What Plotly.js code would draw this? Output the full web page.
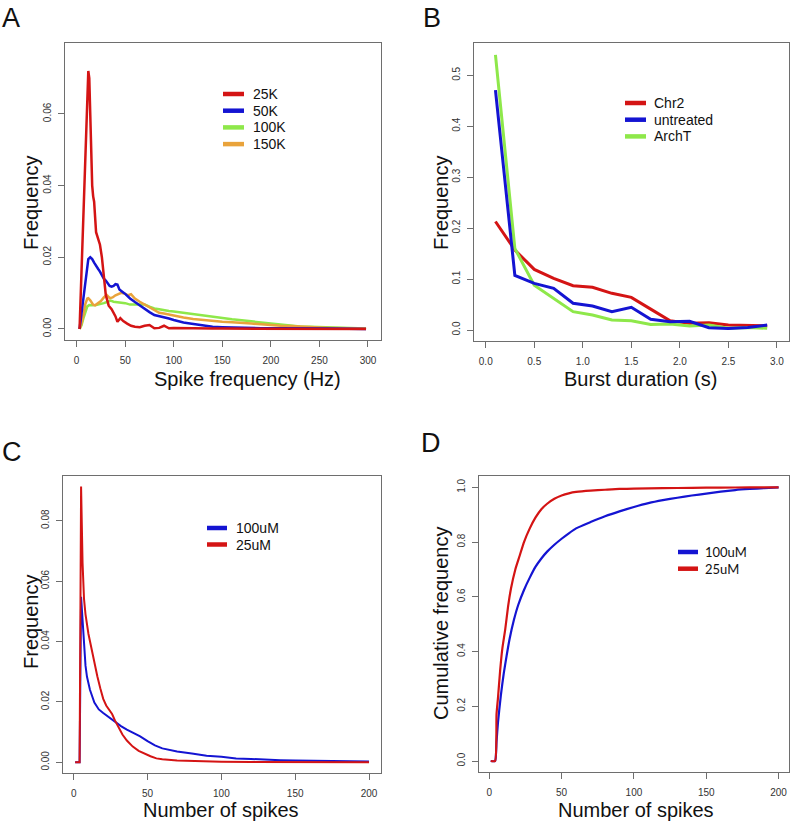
<!DOCTYPE html>
<html><head><meta charset="utf-8">
<script src="https://cdn.plot.ly/plotly-3.0.1.min.js"></script>
<style>html,body{margin:0;padding:0;background:#fff}#chart{width:791px;height:822px}</style>
</head><body><div id="chart"></div>
<script>
// ---------- Panel A: spike frequency distributions ----------
const a25kX = [3,5,7,9,11,12,13,14,15,16,17,18,20,22,24,26,28,30,33,36,40,42,45,48,52,56,60,65,70,75,80,85,90,95,100,110,120,130,140,150,170,200,230,260,298];
const a25kY = [0,0.018,0.033,0.048,0.064,0.072,0.070,0.057,0.047,0.040,0.037,0.0355,0.027,0.025,0.0235,0.020,0.014,0.0095,0.0065,0.0055,0.0035,0.002,0.003,0.0022,0.0015,0.0009,0.0006,0.0005,0.0009,0.0011,0.0002,0.0003,0.0009,0.0002,0.0003,0.0002,0.0002,0.0001,0.0001,0.0001,0.0001,0.0001,0.0001,0.0001,0];
const a50kX = [3,5,7,9,11,12,14,16,18,20,22,24,26,28,30,32,34,36,38,40,42,44,46,48,50,55,60,65,70,75,80,85,90,95,100,105,110,115,120,125,130,140,150,160,175,190,210,230,260,298];
const a50kY = [0,0.004,0.0085,0.013,0.0175,0.0195,0.020,0.0195,0.0185,0.0175,0.0168,0.016,0.015,0.014,0.0135,0.0128,0.012,0.0118,0.012,0.0125,0.0124,0.011,0.0105,0.0102,0.0098,0.0085,0.0075,0.0065,0.0056,0.0047,0.0039,0.0036,0.0034,0.0029,0.0025,0.0021,0.0018,0.0016,0.0014,0.0011,0.0008,0.0006,0.0005,0.0004,0.0003,0.0002,0.0002,0.0001,0.0001,0];
const a100kX = [3,5,7,9,11,13,16,20,24,28,32,35,38,42,46,50,55,60,65,70,75,80,85,90,95,100,110,120,130,140,150,160,170,180,190,200,210,220,230,240,250,260,270,280,298];
const a100kY = [0,0.001,0.003,0.005,0.0063,0.0067,0.0066,0.0067,0.0069,0.0072,0.0076,0.0079,0.0076,0.0075,0.0073,0.0072,0.0068,0.0068,0.0070,0.0068,0.0062,0.0057,0.0055,0.0052,0.0050,0.0049,0.0045,0.0042,0.0039,0.0034,0.0030,0.0027,0.0024,0.0021,0.0018,0.0015,0.0012,0.0009,0.0007,0.0006,0.0005,0.0004,0.0003,0.0002,0.0001];
const a150kX = [3,5,7,9,11,12,14,17,19,22,25,28,31,34,37,40,43,46,50,53,56,60,65,70,75,80,85,90,95,100,110,120,130,140,150,160,170,180,190,200,210,220,230,240,250,260,270,280,298];
const a150kY = [0,0.0015,0.004,0.007,0.0085,0.0086,0.008,0.0068,0.0066,0.0072,0.0078,0.0088,0.0095,0.0086,0.0088,0.0094,0.0098,0.0101,0.0098,0.0094,0.0097,0.0085,0.0076,0.0068,0.0059,0.0051,0.0045,0.0043,0.0040,0.0038,0.0032,0.0028,0.0025,0.0022,0.0020,0.0019,0.0018,0.0015,0.0013,0.0010,0.0009,0.0008,0.0006,0.0005,0.0004,0.0003,0.0003,0.0002,0.0001];
const aNames = ["25K","50K","100K","150K"];

// ---------- Panel B: burst duration ----------
const bX = [0.1,0.3,0.5,0.7,0.9,1.1,1.3,1.5,1.7,1.9,2.1,2.3,2.5,2.7,2.9];
const bChr2 = [0.213,0.157,0.119,0.1015,0.087,0.084,0.072,0.064,0.041,0.018,0.013,0.0144,0.0098,0.0085,0.008];
const bUntreated = [0.471,0.107,0.0916,0.0818,0.0524,0.0471,0.036,0.0445,0.021,0.0163,0.017,0.0045,0.003,0.005,0.0098];
const bArchT = [0.54,0.160,0.088,0.062,0.036,0.0294,0.0196,0.018,0.011,0.0118,0.0078,0.0098,0.0033,0.005,0.0033];
const bNames = ["Chr2","untreated","ArchT"];

// ---------- Panel C: number of spikes distribution ----------
const c100X = [1,4,5,6,6.5,8,9,11,14,17,20,24,28,32,36,40,45,50,55,60,65,70,80,90,100,110,120,130,140,150,160,170,180,190,200];
const c100Y = [0,0,0.0548,0.046,0.0427,0.032,0.0283,0.024,0.0198,0.0175,0.0163,0.0148,0.0135,0.012,0.0108,0.0098,0.0086,0.007,0.0056,0.0046,0.004,0.0036,0.0029,0.0022,0.0018,0.0013,0.0011,0.0008,0.0007,0.0006,0.0005,0.0004,0.0004,0.0003,0.0003];
const c25X = [1,4,5,6,7,8,10,12,14,16,18,20,22,24,26,28,30,33,36,40,44,48,52,56,60,70,80,100,120,150,200];
const c25Y = [0,0,0.0913,0.066,0.054,0.049,0.0425,0.0375,0.0325,0.0285,0.0245,0.021,0.0188,0.0175,0.016,0.0138,0.0118,0.0092,0.0072,0.0052,0.0038,0.0028,0.002,0.0013,0.001,0.0006,0.0004,0.0002,0.0001,0.0001,0];
const cNames = ["100uM","25uM"];

// ---------- Panel D: cumulative ----------
const d100X = [1,4,5,6,8,10,12,14,17,20,24,28,32,36,40,45,50,55,60,70,80,90,100,110,120,130,140,150,160,170,180,190,200];
const d100Y = [0,0,0.07,0.14,0.24,0.32,0.385,0.445,0.515,0.57,0.625,0.67,0.71,0.74,0.765,0.79,0.812,0.832,0.85,0.873,0.894,0.912,0.928,0.942,0.953,0.962,0.97,0.977,0.984,0.99,0.994,0.997,1.0];
const d25X = [1,4,5,6,7.5,9,11,13,15,18,21,24,28,32,36,40,45,50,55,60,70,80,90,100,120,140,160,180,200];
const d25Y = [0,0,0.17,0.23,0.33,0.41,0.48,0.565,0.63,0.70,0.75,0.80,0.85,0.89,0.92,0.94,0.958,0.97,0.978,0.983,0.988,0.991,0.994,0.995,0.997,0.998,0.999,0.9995,1.0];
const dNames = ["100uM","25uM"];

// ---------- styling / layout ----------
const W = 791, H = 822;
const FONT = '"Liberation Sans", Arial, Helvetica, sans-serif';
const RED = '#d41414', BLUE = '#1414d2', GREEN = '#8ee84a', ORANGE = '#e9a33b';
const px = x => x / W, py = y => 1 - y / H;

function tr(x, y, color, w, xa, ya, shape) {
  return {x: x, y: y, type: 'scatter', mode: 'lines',
    line: {color: color, width: w, shape: shape || 'linear', smoothing: 0.5},
    xaxis: xa, yaxis: ya, showlegend: false, hoverinfo: 'skip'};
}

const data = [
  tr(a100kX, a100kY, GREEN, 2.5, 'x', 'y'),
  tr(a150kX, a150kY, ORANGE, 2.5, 'x', 'y'),
  tr(a50kX, a50kY, BLUE, 2.5, 'x', 'y'),
  tr(a25kX, a25kY, RED, 2.5, 'x', 'y'),
  tr(bX, bChr2, RED, 3, 'x2', 'y2'),
  tr(bX, bArchT, GREEN, 3, 'x2', 'y2'),
  tr(bX, bUntreated, BLUE, 3, 'x2', 'y2'),
  tr(c100X, c100Y, BLUE, 2, 'x3', 'y3'),
  tr(c25X, c25Y, RED, 2, 'x3', 'y3'),
  tr(d100X, d100Y, BLUE, 2.2, 'x4', 'y4', 'spline'),
  tr(d25X, d25Y, RED, 2.2, 'x4', 'y4', 'spline')
];

const boxes = {A: [65, 43, 381, 340], B: [474, 43, 789, 341], C: [63.3, 476, 381, 773.3], D: [479.3, 476, 789, 771.7]};

function xax(b, range, dtick, fmt, anchor) {
  return {domain: [px(b[0]), px(b[2])], range: range, anchor: anchor, tick0: 0, dtick: dtick, tickformat: fmt,
    showgrid: false, zeroline: false, showline: true, mirror: true, linecolor: '#6e6e6e', linewidth: 1,
    ticks: 'outside', ticklen: 6, tickcolor: '#6e6e6e', tickwidth: 1, ticklabelstandoff: 5,
    tickfont: {family: FONT, size: 10, color: '#333'}, fixedrange: true};
}
function yax(b, range, dtick, fmt, anchor) {
  return {domain: [py(b[3]), py(b[1])], range: range, anchor: anchor, tick0: 0, dtick: dtick, tickformat: fmt,
    showgrid: false, zeroline: false, showline: true, mirror: true, linecolor: '#6e6e6e', linewidth: 1,
    ticks: 'outside', ticklen: 6, tickcolor: '#6e6e6e', tickwidth: 1, tickangle: -90, ticklabelstandoff: 3,
    tickfont: {family: FONT, size: 10, color: '#333'}, fixedrange: true};
}

const shapes = [], annotations = [];
function label(text, x, y, size, angle, family) {
  annotations.push({xref: 'paper', yref: 'paper', x: px(x), y: py(y), xanchor: 'center', yanchor: 'middle',
    text: text, showarrow: false, textangle: angle || 0, font: {family: family || FONT, size: size, color: '#111'}});
}
function legend(names, colors, x0, x1, tx, y0, dy, family, size) {
  names.forEach((n, i) => {
    const y = y0 + i * dy;
    shapes.push({type: 'line', xref: 'paper', yref: 'paper', x0: px(x0), x1: px(x1), y0: py(y), y1: py(y),
      line: {color: colors[i], width: 4.5}});
    annotations.push({xref: 'paper', yref: 'paper', x: px(tx), y: py(y), xanchor: 'left', yanchor: 'middle',
      text: n, showarrow: false, font: {family: family, size: size, color: '#111'}});
  });
}

// panel letters
label('A', 11, 18, 27); label('B', 432, 18, 27); label('C', 12, 452, 27); label('D', 431, 443, 27);
// axis titles
label('Spike frequency (Hz)', 247, 379, 20); label('Frequency', 31, 203, 20, -90);
label('Burst duration (s)', 640, 379, 20); label('Frequency', 441, 203, 20, -90);
label('Number of spikes', 221, 810, 20); label('Frequency', 31, 622, 20, -90);
label('Number of spikes', 636, 810, 20); label('Cumulative frequency', 441, 624, 20, -90);
// legends
legend(aNames, [RED, BLUE, GREEN, ORANGE], 223, 244, 251, 94, 16.7, FONT, 14);
legend(bNames, [RED, BLUE, GREEN], 625, 646, 652, 103, 16.7, FONT, 14);
legend(cNames, [BLUE, RED], 207, 227, 234, 528, 16.5, FONT, 14);
legend(dNames, [BLUE, RED], 678, 698, 703, 552, 16.7, 'Lato, "Open Sans", sans-serif', 13);

const layout = {
  width: W, height: H, margin: {l: 0, r: 0, t: 0, b: 0},
  paper_bgcolor: '#fff', plot_bgcolor: '#fff', showlegend: false,
  xaxis: xax(boxes.A, [-12.0, 313.4], 50, 'd', 'y'),
  yaxis: yax(boxes.A, [-0.00308, 0.0798], 0.02, '.2f', 'x'),
  xaxis2: xax(boxes.B, [-0.121, 3.125], 0.5, '.1f', 'y2'),
  yaxis2: yax(boxes.B, [-0.0216, 0.5634], 0.1, '.1f', 'x2'),
  xaxis3: xax(boxes.C, [-7.04, 208.1], 50, 'd', 'y3'),
  yaxis3: yax(boxes.C, [-0.00364, 0.0948], 0.02, '.2f', 'x3'),
  xaxis4: xax(boxes.D, [-6.9, 207.2], 50, 'd', 'y4'),
  yaxis4: yax(boxes.D, [-0.039, 1.0413], 0.2, '.1f', 'x4'),
  shapes: shapes, annotations: annotations
};

Plotly.newPlot('chart', data, layout, {displayModeBar: false, staticPlot: true});
</script>
</body></html>
